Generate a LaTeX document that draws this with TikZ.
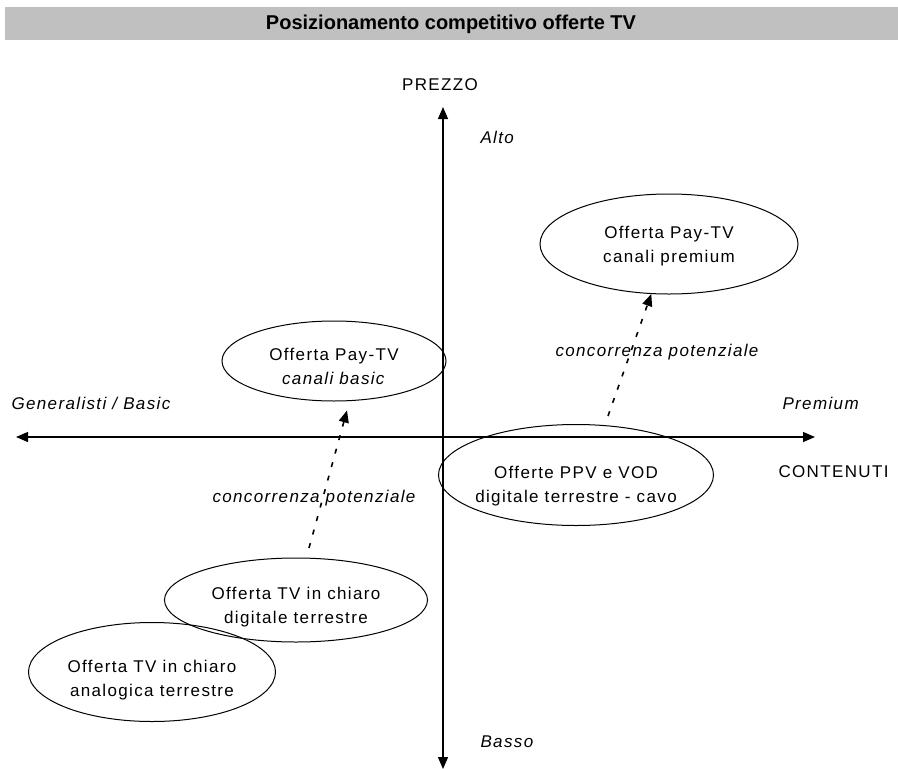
\documentclass[tikz,border=0pt]{standalone}
\usepackage{fontspec}
\setmainfont{Liberation Sans}[LetterSpace=8]
\usetikzlibrary{shapes.geometric,arrows.meta}
\definecolor{bargray}{RGB}{192,192,192}
\tikzset{
  base/.style={font=\fontsize{17}{24}\selectfont},
  corsivo/.style={font=\fontsize{17}{24}\selectfont\itshape},
  offerta/.style={ellipse,draw,line width=1pt,inner sep=0pt},
  testo/.style={base,align=center,inner sep=0pt},
  asse/.style={line width=1.3pt,{Triangle[length=12pt,width=10pt]}-{Triangle[length=12pt,width=10pt]}},
  concorrenza/.style={line width=1.6pt,dash pattern=on 5pt off 9pt,-{Triangle[length=12pt,width=10pt]}},
}
\begin{document}
\begin{tikzpicture}[x=1pt,y=-1pt]
\useasboundingbox (0,0) rectangle (898,769);

% titolo
\fill[bargray] (5,7) rectangle (898,40);
\node[font=\fontsize{20}{24}\selectfont\bfseries\addfontfeature{LetterSpace=0}] (titolo) at (451,24) {Posizionamento competitivo offerte TV};

% assi
\coordinate (ovest) at (16,437);
\coordinate (est) at (815,437);
\coordinate (nord) at (443,107);
\coordinate (sud) at (443,769);
\draw[asse] (ovest) -- (est);
\draw[asse] (nord) -- (sud);

\node[base] (prezzo) at (440,85) {PREZZO};
\node[corsivo,anchor=west] (alto) at (477,137) {Alto};
\node[corsivo,anchor=west] (basso) at (477,742) {Basso};
\node[corsivo,anchor=west] (generalisti) at (8,403) {Generalisti / Basic};
\node[corsivo,anchor=west] (premiumlbl) at (779,403) {Premium};
\node[base,anchor=west] (contenuti) at (775,472) {CONTENUTI};

% offerte
\node[offerta,minimum width=258pt,minimum height=100pt] (premium) at (669,244) {};
\node[offerta,minimum width=224pt,minimum height=80pt] (basic) at (334,361) {};
\node[offerta,minimum width=275pt,minimum height=101pt] (ppv) at (576,475) {};
\node[offerta,minimum width=263pt,minimum height=84pt] (digitale) at (296,600) {};
\node[offerta,minimum width=247pt,minimum height=99pt] (analogica) at (152,672) {};

\node[testo] (premiumtxt) at ([yshift=-2pt]premium.center) {Offerta Pay-TV\\canali premium};
\node[testo] (basictxt) at ([yshift=-5pt]basic.center) {Offerta Pay-TV\\\textit{canali basic}};
\node[testo] (ppvtxt) at ([yshift=-11pt]ppv.center) {Offerte PPV e VOD\\digitale terrestre - cavo};
\node[testo] (digitaletxt) at ([yshift=-7pt]digitale.center) {Offerta TV in chiaro\\digitale terrestre};
\node[testo] (analogicatxt) at ([yshift=-8pt]analogica.center) {Offerta TV in chiaro\\analogica terrestre};

% concorrenza potenziale
\coordinate (da) at (309,548);
\coordinate (db) at (608,416);
\draw[concorrenza] (da) -- ([xshift=13pt,yshift=-9pt]basic.south);
\draw[concorrenza] (db) -- (premium);
\node[corsivo] (potsx) at (314,498) {concorrenza potenziale};
\node[corsivo] (potdx) at (657,352) {concorrenza potenziale};
\end{tikzpicture}
\end{document}
